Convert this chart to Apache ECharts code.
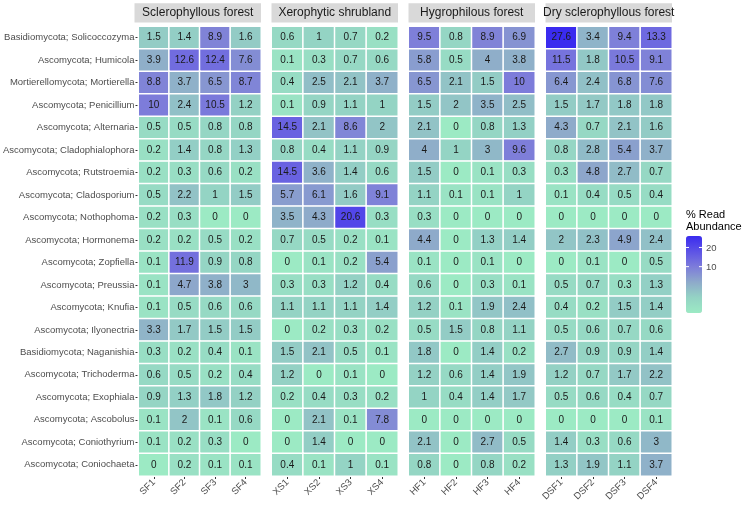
<!DOCTYPE html>
<html><head><meta charset="utf-8">
<script src="https://cdn.jsdelivr.net/npm/echarts@6/dist/echarts.min.js"></script>
<style>html,body{margin:0;padding:0;background:#fff}#c{width:743px;height:508px}</style>
</head><body><div id="c"></div>
<script>
const genera = [
  'Basidiomycota; Solicoccozyma','Ascomycota; Humicola','Mortierellomycota; Mortierella','Ascomycota; Penicillium',
  'Ascomycota; Alternaria','Ascomycota; Cladophialophora','Ascomycota; Rutstroemia','Ascomycota; Cladosporium',
  'Ascomycota; Nothophoma','Ascomycota; Hormonema','Ascomycota; Zopfiella','Ascomycota; Preussia',
  'Ascomycota; Knufia','Ascomycota; Ilyonectria','Basidiomycota; Naganishia','Ascomycota; Trichoderma',
  'Ascomycota; Exophiala','Ascomycota; Ascobolus','Ascomycota; Coniothyrium','Ascomycota; Coniochaeta'
];
const habitats = ['Sclerophyllous forest','Xerophytic shrubland','Hygrophilous forest','Dry sclerophyllous forest'];
const samples = [
  ['SF1','SF2','SF3','SF4'],
  ['XS1','XS2','XS3','XS4'],
  ['HF1','HF2','HF3','HF4'],
  ['DSF1','DSF2','DSF3','DSF4']
];
// rows follow genera order, columns follow samples
const sclerophyllous = [
  [1.5,1.4,8.9,1.6],[3.9,12.6,12.4,7.6],[8.8,3.7,6.5,8.7],[10,2.4,10.5,1.2],
  [0.5,0.5,0.8,0.8],[0.2,1.4,0.8,1.3],[0.2,0.3,0.6,0.2],[0.5,2.2,1,1.5],
  [0.2,0.3,0,0],[0.2,0.2,0.5,0.2],[0.1,11.9,0.9,0.8],[0.1,4.7,3.8,3],
  [0.1,0.5,0.6,0.6],[3.3,1.7,1.5,1.5],[0.3,0.2,0.4,0.1],[0.6,0.5,0.2,0.4],
  [0.9,1.3,1.8,1.2],[0.1,2,0.1,0.6],[0.1,0.2,0.3,0],[0,0.2,0.1,0.1]
];
const xerophytic = [
  [0.6,1,0.7,0.2],[0.1,0.3,0.7,0.6],[0.4,2.5,2.1,3.7],[0.1,0.9,1.1,1],
  [14.5,2.1,8.6,2],[0.8,0.4,1.1,0.9],[14.5,3.6,1.4,0.6],[5.7,6.1,1.6,9.1],
  [3.5,4.3,20.6,0.3],[0.7,0.5,0.2,0.1],[0,0.1,0.2,5.4],[0.3,0.3,1.2,0.4],
  [1.1,1.1,1.1,1.4],[0,0.2,0.3,0.2],[1.5,2.1,0.5,0.1],[1.2,0,0.1,0],
  [0.2,0.4,0.3,0.2],[0,2.1,0.1,7.8],[0,1.4,0,0],[0.4,0.1,1,0.1]
];
const hygrophilous = [
  [9.5,0.8,8.9,6.9],[5.8,0.5,4,3.8],[6.5,2.1,1.5,10],[1.5,2,3.5,2.5],
  [2.1,0,0.8,1.3],[4,1,3,9.6],[1.5,0,0.1,0.3],[1.1,0.1,0.1,1],
  [0.3,0,0,0],[4.4,0,1.3,1.4],[0.1,0,0.1,0],[0.6,0,0.3,0.1],
  [1.2,0.1,1.9,2.4],[0.5,1.5,0.8,1.1],[1.8,0,1.4,0.2],[1.2,0.6,1.4,1.9],
  [1,0.4,1.4,1.7],[0,0,0,0],[2.1,0,2.7,0.5],[0.8,0,0.8,0.2]
];
const drySclerophyllous = [
  [27.6,3.4,9.4,13.3],[11.5,1.8,10.5,9.1],[6.4,2.4,6.8,7.6],[1.5,1.7,1.8,1.8],
  [4.3,0.7,2.1,1.6],[0.8,2.8,5.4,3.7],[0.3,4.8,2.7,0.7],[0.1,0.4,0.5,0.4],
  [0,0,0,0],[2,2.3,4.9,2.4],[0,0.1,0,0.5],[0.5,0.7,0.3,1.3],
  [0.4,0.2,1.5,1.4],[0.5,0.6,0.7,0.6],[2.7,0.9,0.9,1.4],[1.2,0.7,1.7,2.2],
  [0.5,0.6,0.4,0.7],[0,0,0,0.1],[1.4,0.3,0.6,3],[1.3,1.9,1.1,3.7]
];
const legendTicks = [10, 20];
const legendTitle = '% Read\nAbundance';

const panels = [sclerophyllous, xerophytic, hygrophilous, drySclerophyllous];
const maxVal = Math.max(...panels.flat(2));
const maxT = Math.sqrt(maxVal);

// layout
const L = {left0: 134.5, step: 137, w: 126.5, top: 26.5, h: 449.5};
const LG = {x: 686, top: 236, w: 16, h: 77};
const font = '"Liberation Sans", Arial, sans-serif';
const colors = ['#9CEAC4','#94D3C4','#8EAACA','#7D7CDA','#5D53E6','#3A2BEF'];

const grids = [], xAxes = [], yAxes = [], series = [], graphics = [];
panels.forEach((vals, i) => {
  const left = L.left0 + i * L.step;
  grids.push({left: left, top: L.top, width: L.w, height: L.h, containLabel: false});
  xAxes.push({
    type: 'category', gridIndex: i, data: samples[i],
    axisLine: {show: false}, splitLine: {show: false},
    axisTick: {show: true, alignWithLabel: true, length: 3, lineStyle: {color: '#333'}},
    axisLabel: {rotate: 45, fontSize: 9.5, color: '#4d4d4d', margin: 5, fontFamily: font}
  });
  yAxes.push({
    type: 'category', gridIndex: i, data: genera, inverse: true,
    axisLine: {show: false}, splitLine: {show: false},
    axisTick: {show: i === 0, alignWithLabel: true, length: 3, lineStyle: {color: '#333'}},
    axisLabel: {show: i === 0, fontSize: 9.5, color: '#4d4d4d', margin: 4, fontFamily: font}
  });
  const data = [];
  vals.forEach((row, r) => row.forEach((v, c) => data.push([c, r, v, Math.sqrt(v)])));
  series.push({
    type: 'heatmap', xAxisIndex: i, yAxisIndex: i, data: data,
    encode: {x: 0, y: 1},
    label: {show: true, formatter: p => String(p.value[2]), fontSize: 10, color: '#1a1a1a', fontFamily: font},
    itemStyle: {borderColor: '#fff', borderWidth: 1.5},
    emphasis: {disabled: true}
  });
  graphics.push({type: 'rect', shape: {x: left, y: 3.3, width: L.w, height: 19.3}, style: {fill: '#d9d9d9'}, silent: true});
  graphics.push({type: 'text', x: left + L.w / 2, y: 13, style: {text: habitats[i], fontSize: 12, fill: '#1a1a1a', fontFamily: font, align: 'center', verticalAlign: 'middle'}, silent: true});
});

graphics.push({type: 'text', x: LG.x, y: 209.5, style: {text: legendTitle, fontSize: 11, lineHeight: 11.5, fill: '#000', fontFamily: font, align: 'left', verticalAlign: 'top'}, silent: true});
legendTicks.forEach(v => {
  const y = LG.top + LG.h * (1 - Math.sqrt(v) / maxT);
  graphics.push({type: 'text', x: LG.x + LG.w + 4, y: y + 1, style: {text: String(v), fontSize: 9.5, fill: '#4d4d4d', fontFamily: font, align: 'left', verticalAlign: 'middle'}, silent: true, z: 10});
  graphics.push({type: 'line', shape: {x1: LG.x, y1: y, x2: LG.x + 3, y2: y}, style: {stroke: '#fff', lineWidth: 1}, silent: true, z: 10});
  graphics.push({type: 'line', shape: {x1: LG.x + LG.w - 3, y1: y, x2: LG.x + LG.w, y2: y}, style: {stroke: '#fff', lineWidth: 1}, silent: true, z: 10});
});

const chart = echarts.init(document.getElementById('c'), null, {renderer: 'canvas'});
chart.setOption({
  animation: false,
  backgroundColor: '#fff',
  textStyle: {fontFamily: font},
  grid: grids, xAxis: xAxes, yAxis: yAxes, series: series,
  visualMap: {
    type: 'continuous', min: 0, max: maxT, dimension: 3, seriesIndex: [0,1,2,3],
    calculable: false, hoverLink: false, realtime: false,
    left: LG.x, top: LG.top, itemWidth: LG.w, itemHeight: LG.h, padding: 0,
    orient: 'vertical', text: null, showLabel: false,
    inRange: {color: colors}
  },
  graphic: graphics
});
</script></body></html>
